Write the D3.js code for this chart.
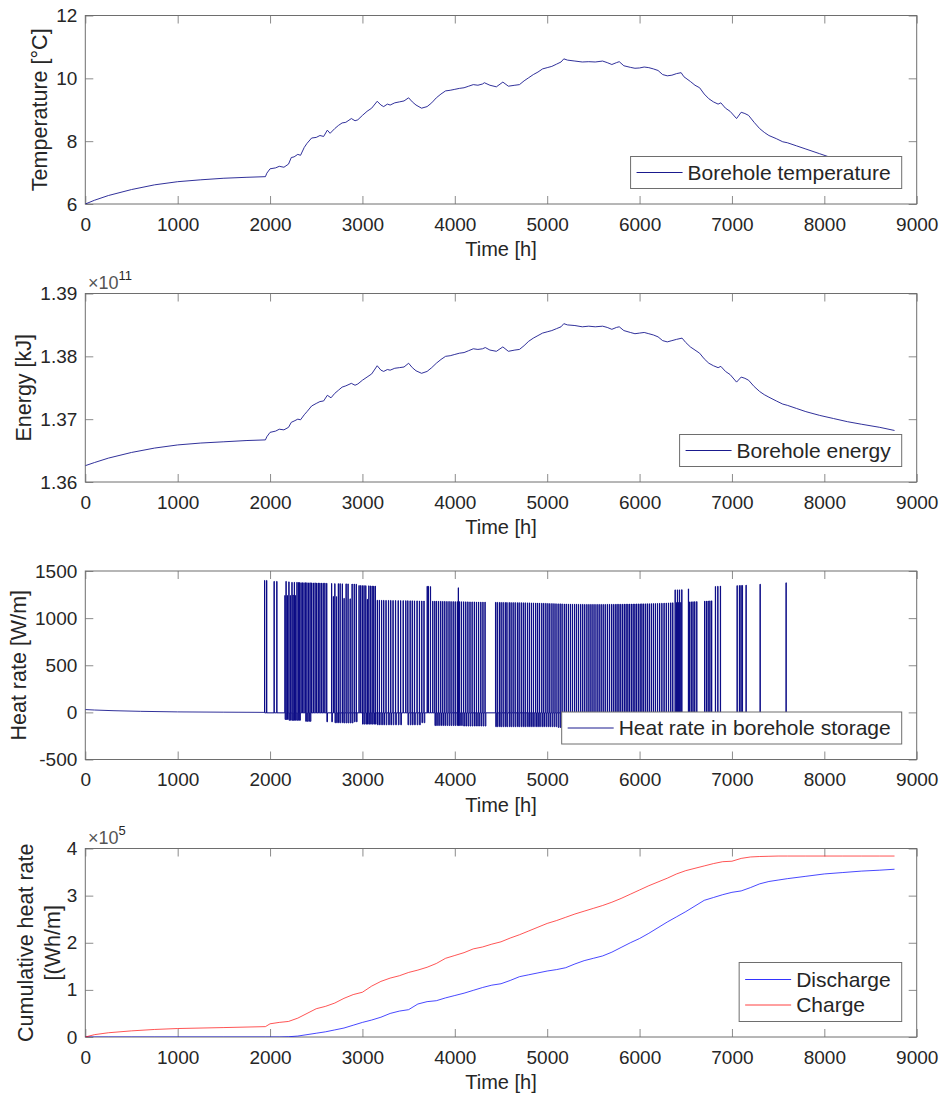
<!DOCTYPE html>
<html>
<head>
<meta charset="utf-8">
<script src="https://cdn.jsdelivr.net/npm/d3@7"></script>
<style>
  body { margin: 0; background: #fff; }
  svg text { font-family: Helvetica, "Liberation Sans", Arial, sans-serif; fill: #262626; }
</style>
</head>
<body>
<svg id="chart" width="944" height="1096"></svg>
<script>
// ---- data ----
const timeTicks = [0, 1000, 2000, 3000, 4000, 5000, 6000, 7000, 8000, 9000]

// borehole temperature [°C]
const tempHours = [0, 100, 250, 500, 750, 1000, 1250, 1500, 1750, 1950, 1965, 2000, 2060, 2100, 2150, 2200, 2230, 2260, 2300, 2330, 2370, 2400, 2450, 2500, 2540, 2580, 2620, 2650, 2700, 2740, 2780, 2820, 2880, 2920, 2950, 3000, 3050, 3100, 3160, 3200, 3230, 3270, 3300, 3350, 3400, 3450, 3500, 3540, 3580, 3640, 3700, 3750, 3800, 3850, 3900, 3950, 4000, 4050, 4100, 4150, 4200, 4250, 4300, 4320, 4380, 4450, 4520, 4580, 4650, 4700, 4750, 4800, 4850, 4900, 4950, 5000, 5050, 5100, 5150, 5180, 5220, 5300, 5380, 5450, 5520, 5600, 5650, 5700, 5750, 5780, 5830, 5900, 5950, 6000, 6050, 6100, 6150, 6200, 6250, 6300, 6350, 6400, 6450, 6480, 6550, 6600, 6650, 6700, 6750, 6800, 6850, 6880, 6930, 6980, 7050, 7100, 7140, 7180, 7240, 7300, 7350, 7400, 7480, 7550, 7600, 7700, 7800, 7950, 8050, 8200, 8400, 8600, 8760]
const tempValues = [6.0, 6.12, 6.27, 6.46, 6.61, 6.71, 6.77, 6.82, 6.85, 6.87, 6.98, 7.12, 7.15, 7.2, 7.17, 7.27, 7.48, 7.5, 7.58, 7.55, 7.8, 7.93, 8.1, 8.12, 8.18, 8.15, 8.35, 8.25, 8.4, 8.5, 8.58, 8.6, 8.72, 8.65, 8.68, 8.82, 8.95, 9.05, 9.27, 9.15, 9.1, 9.18, 9.15, 9.22, 9.25, 9.28, 9.38, 9.25, 9.15, 9.05, 9.1, 9.22, 9.38, 9.5, 9.6, 9.62, 9.65, 9.68, 9.7, 9.75, 9.8, 9.78, 9.82, 9.86, 9.78, 9.73, 9.88, 9.75, 9.78, 9.8, 9.92, 10.02, 10.12, 10.2, 10.3, 10.34, 10.38, 10.45, 10.52, 10.62, 10.58, 10.55, 10.52, 10.53, 10.52, 10.55, 10.5, 10.44, 10.5, 10.53, 10.4, 10.35, 10.32, 10.33, 10.36, 10.34, 10.3, 10.25, 10.12, 10.08, 10.1, 10.15, 10.18, 10.05, 9.9, 9.78, 9.7, 9.5, 9.35, 9.25, 9.18, 9.22, 9.05, 8.95, 8.72, 8.92, 8.88, 8.82, 8.6, 8.4, 8.28, 8.18, 8.08, 7.98, 7.95, 7.85, 7.75, 7.6, 7.5, 7.42, 7.34, 7.27, 7.22]

// borehole energy [kJ], in units of 1e11
const energyHours = [0, 100, 250, 500, 750, 1000, 1250, 1500, 1750, 1950, 1965, 2000, 2060, 2100, 2150, 2200, 2230, 2260, 2300, 2330, 2370, 2400, 2450, 2500, 2540, 2580, 2620, 2660, 2700, 2740, 2780, 2820, 2880, 2920, 2950, 3000, 3050, 3100, 3160, 3200, 3230, 3270, 3300, 3350, 3400, 3450, 3500, 3540, 3580, 3640, 3700, 3750, 3800, 3850, 3900, 3950, 4000, 4050, 4100, 4150, 4200, 4250, 4300, 4330, 4380, 4450, 4520, 4580, 4650, 4700, 4750, 4800, 4850, 4900, 4950, 5000, 5050, 5100, 5150, 5180, 5220, 5300, 5380, 5450, 5520, 5600, 5650, 5700, 5750, 5780, 5830, 5900, 5950, 6000, 6050, 6100, 6150, 6200, 6250, 6300, 6350, 6400, 6460, 6500, 6550, 6600, 6650, 6700, 6750, 6800, 6850, 6880, 6930, 6980, 7050, 7100, 7140, 7180, 7240, 7300, 7350, 7400, 7480, 7550, 7600, 7700, 7800, 7950, 8100, 8250, 8400, 8600, 8760]
const energyValues = [1.3626, 1.3631, 1.3638, 1.3647, 1.3654, 1.3659, 1.3662, 1.3664, 1.3666, 1.3667, 1.3672, 1.3679, 1.3681, 1.3684, 1.3683, 1.3687, 1.3695, 1.3697, 1.3700, 1.3699, 1.3707, 1.3712, 1.3721, 1.3725, 1.3728, 1.3729, 1.3738, 1.3734, 1.3741, 1.3746, 1.3751, 1.3753, 1.3757, 1.3754, 1.3756, 1.3762, 1.3767, 1.3772, 1.3785, 1.3778, 1.3776, 1.3779, 1.3778, 1.3781, 1.3782, 1.3783, 1.3789, 1.3782, 1.3777, 1.3773, 1.3776, 1.3782, 1.3789, 1.3795, 1.3800, 1.3801, 1.3803, 1.3805, 1.3806, 1.3809, 1.3812, 1.3811, 1.3812, 1.3814, 1.3810, 1.3808, 1.3815, 1.3808, 1.3810, 1.3811, 1.3817, 1.3824, 1.3829, 1.3833, 1.3837, 1.3839, 1.3841, 1.3844, 1.3847, 1.3852, 1.3850, 1.3849, 1.3847, 1.3848, 1.3847, 1.3848, 1.3846, 1.3843, 1.3846, 1.3847, 1.3841, 1.3838, 1.3836, 1.3837, 1.3838, 1.3836, 1.3834, 1.3831, 1.3825, 1.3823, 1.3825, 1.3827, 1.3829, 1.3822, 1.3815, 1.3810, 1.3805, 1.3796, 1.3789, 1.3785, 1.3782, 1.3784, 1.3776, 1.3771, 1.3759, 1.3767, 1.3765, 1.3762, 1.3752, 1.3744, 1.3739, 1.3735, 1.3729, 1.3724, 1.3722, 1.3717, 1.3712, 1.3706, 1.3701, 1.3696, 1.3692, 1.3687, 1.3682]

// heat rate [W/m]: slow drift before the first charge
const rateEarlyHours = [0, 100, 300, 600, 1000, 1500, 1940]
const rateEarlyValues = [30, 25, 18, 11, 5, 2, 0]
// charge pulses: [hour, peak rate]
const chargePulses = [
  [1940,1400],[1962,1400],[2043,1390],[2072,1390],
  [2160,1240],[2172,1390],[2186,1240],[2203,1385],[2219,1240],[2236,1380],[2248,1245],[2262,1380],[2274,1240],[2290,1380],[2306,1378],[2318,1378],
  [2334,1375],[2349,1376],[2366,1375],[2383,1376],[2398,1375],[2416,1374],[2432,1375],[2449,1374],[2467,1373],[2486,1374],[2503,1372],[2521,1373],[2538,1372],[2556,1372],[2574,1371],[2592,1372],[2612,1370],
  [2665,1368],[2684,1230],[2700,1366],[2718,1228],[2738,1366],[2757,1366],[2781,1364],[2800,1210],[2822,1364],[2843,1363],[2866,1205],[2887,1362],[2910,1362],[2932,1360],
  [2962,1346],[2980,1346],[2998,1345],[3016,1345],[3035,1344],[3052,1200],[3068,1343],[3086,1342],[3104,1341],[3121,1340],[3138,1340],
  [3160,1190],[3182,1190],[3206,1189],[3229,1189],[3254,1188],[3281,1188],[3305,1188],[3330,1187],[3357,1187],[3386,1186],[3412,1186],[3440,1186],[3468,1185],[3490,1185],[3515,1184],[3538,1184],[3562,1183],[3590,1183],[3616,1182],[3641,1182],[3665,1182],
  [3700,1338],[3712,1338],[3735,1335],
  [3760,1180],[3782,1180],[3801,1180],[3823,1179],[3846,1179],[3868,1178],[3890,1178],[3913,1177],[3936,1177],[3958,1176],[3981,1176],[4003,1175],[4026,1175],[4037,1322],[4050,1175],[4071,1174],[4094,1174],[4117,1173],[4140,1173],[4163,1172],[4186,1172],[4210,1172],[4233,1171],[4256,1171],[4280,1170],[4303,1170],[4326,1170],
  [4440,1168],[4458,1168],[4481,1167],[4500,1167],[4522,1167],[4545,1166],[4563,1166],[4588,1166],[4608,1165],[4630,1165],[4652,1165],[4676,1164],[4695,1164],[4718,1164],[4740,1163],[4761,1163],[4785,1162],[4806,1162],[4828,1161],[4850,1161],[4874,1160],[4895,1160],[4916,1159],[4940,1158],[4961,1158],[4984,1157],
  [5006,1156],[5027,1155],[5050,1155],[5072,1154],[5094,1153],[5117,1152],[5139,1152],[5160,1151],[5184,1150],[5205,1150],[5228,1149],[5250,1149],[5272,1148],[5295,1148],[5316,1148],[5338,1147],[5361,1147],[5383,1147],[5405,1146],[5428,1146],[5450,1146],[5472,1146],[5494,1146],[5516,1146],[5539,1146],[5561,1146],[5583,1146],[5605,1146],[5627,1146],[5650,1147],[5672,1147],[5694,1147],[5714,1147],[5735,1147],[5755,1148],[5775,1148],[5795,1148],[5815,1148],[5834,1149],[5853,1149],[5872,1149],[5891,1150],[5910,1150],[5929,1150],[5948,1150],[5967,1151],[5986,1151],
  [6005,1151],[6024,1152],[6043,1152],[6063,1152],[6083,1153],[6104,1153],[6126,1154],[6148,1155],[6170,1155],[6193,1156],[6216,1157],[6240,1158],[6264,1159],[6288,1160],[6312,1161],[6336,1162],[6358,1163],
  [6384,1300],[6398,1165],[6409,1300],[6420,1166],[6431,1300],[6445,1166],[6456,1302],
  [6528,1310],[6540,1172],[6558,1173],[6577,1174],[6596,1175],[6618,1176],
  [6703,1180],[6722,1181],[6741,1182],[6760,1183],[6779,1184],
  [6820,1336],[6846,1338],[6874,1340],
  [7055,1345],[7080,1346],[7097,1347],[7112,1347],[7152,1350],
  [7304,1360],
  [7585,1375]
]
// periods where the storage is discharged between pulses: [start, end, rate]
const dischargeBlocks = [
  [1990,2030,-58],[2150,2200,-75],[2200,2330,-84],[2370,2440,-95],[2600,2680,-100],[2690,2790,-110],[2800,2900,-112],[2900,2945,-100],
  [3000,3160,-125],[3160,3430,-132],[3490,3630,-132],[3640,3700,-110],[3780,4080,-140],[4085,4350,-145],[4430,5110,-152],[5110,6400,-160],[6400,6800,-150]
]
const pulseHours = 3
const dischargeHours = 7
const idleRate = -5

// cumulative heat rate [Wh/m], in units of 1e5
const cumHours = [0, 100, 250, 500, 750, 1000, 1500, 1950, 2000, 2100, 2200, 2300, 2400, 2500, 2600, 2700, 2800, 2900, 3000, 3100, 3200, 3300, 3400, 3500, 3600, 3700, 3800, 3900, 4000, 4100, 4200, 4300, 4400, 4500, 4600, 4700, 4800, 4900, 5000, 5100, 5200, 5300, 5400, 5500, 5600, 5700, 5800, 5900, 6000, 6100, 6200, 6300, 6400, 6500, 6600, 6700, 6800, 6900, 7000, 7100, 7200, 7300, 7400, 7500, 7600, 7800, 8000, 8200, 8400, 8600, 8760]
const chargeCum = [0, 0.05, 0.09, 0.13, 0.16, 0.18, 0.2, 0.22, 0.28, 0.31, 0.33, 0.4, 0.5, 0.6, 0.65, 0.72, 0.82, 0.9, 0.95, 1.08, 1.18, 1.25, 1.3, 1.37, 1.42, 1.48, 1.56, 1.67, 1.73, 1.79, 1.87, 1.91, 1.97, 2.02, 2.1, 2.17, 2.25, 2.33, 2.41, 2.47, 2.54, 2.61, 2.67, 2.73, 2.79, 2.86, 2.94, 3.03, 3.12, 3.21, 3.29, 3.37, 3.46, 3.53, 3.58, 3.63, 3.68, 3.72, 3.73, 3.79, 3.82, 3.83, 3.835, 3.84, 3.84, 3.84, 3.84, 3.84, 3.84, 3.84, 3.84]
const dischargeCum = [0, 0, 0, 0, 0, 0, 0, 0, 0, 0, 0.005, 0.02, 0.05, 0.08, 0.11, 0.15, 0.19, 0.25, 0.31, 0.36, 0.42, 0.5, 0.55, 0.58, 0.7, 0.75, 0.77, 0.83, 0.88, 0.93, 0.99, 1.05, 1.1, 1.13, 1.2, 1.28, 1.32, 1.36, 1.4, 1.43, 1.47, 1.55, 1.62, 1.67, 1.72, 1.8, 1.9, 2.0, 2.09, 2.2, 2.32, 2.44, 2.55, 2.66, 2.78, 2.9, 2.96, 3.02, 3.07, 3.1, 3.17, 3.25, 3.3, 3.33, 3.36, 3.41, 3.46, 3.49, 3.52, 3.54, 3.56]

// ---- layout ----
const svg = d3.select("#chart")
const left = 85.3, right = 916.7
const panelTops = [15.5, 293.5, 571, 848.5]
const panelH = 188.5
const tickLen = 8
const axisColor = "#6e6e6e"
const navy = "#1a1a8e"

const x = d3.scaleLinear().domain([0, 9000]).range([left, right])

function makePanel(i, yDomain, yTicks, yFmt) {
  const top = panelTops[i], bottom = top + panelH
  const y = d3.scaleLinear().domain(yDomain).range([bottom, top])
  const g = svg.append("g")

  g.append("clipPath").attr("id", "clip" + i)
    .append("rect").attr("x", left).attr("y", top).attr("width", right - left).attr("height", panelH)

  const styleAxis = (sel) => {
    sel.select(".domain").remove()
    sel.selectAll(".tick line").attr("stroke", axisColor).attr("stroke-width", 0.8)
    sel.selectAll(".tick text").attr("font-size", 19).attr("fill", "#262626")
      .style("font-family", "Helvetica, 'Liberation Sans', Arial, sans-serif")
  }

  g.append("g").attr("transform", `translate(0,${bottom})`)
    .call(d3.axisBottom(x).tickValues(timeTicks).tickSize(-tickLen).tickSizeOuter(0).tickPadding(13.5).tickFormat(d3.format("d")))
    .call(styleAxis)
  g.append("g").attr("transform", `translate(0,${top})`)
    .call(d3.axisTop(x).tickValues(timeTicks).tickSize(-tickLen).tickSizeOuter(0).tickFormat(""))
    .call(styleAxis)
  g.append("g").attr("transform", `translate(${left},0)`)
    .call(d3.axisLeft(y).tickValues(yTicks).tickSize(-tickLen).tickSizeOuter(0).tickPadding(8).tickFormat(yFmt))
    .call(styleAxis)
  g.append("g").attr("transform", `translate(${right},0)`)
    .call(d3.axisRight(y).tickValues(yTicks).tickSize(-tickLen).tickSizeOuter(0).tickFormat(""))
    .call(styleAxis)

  g.append("rect").attr("x", left).attr("y", top).attr("width", right - left).attr("height", panelH)
    .attr("fill", "none").attr("stroke", axisColor).attr("stroke-width", 1)

  g.append("text").attr("x", (left + right) / 2).attr("y", bottom + 52)
    .attr("text-anchor", "middle").attr("font-size", 20).text("Time [h]")

  const plot = g.append("g").attr("clip-path", `url(#clip${i})`)
  return { g, y, top, bottom, plot }
}

function yLabel(g, lines, xs, cy) {
  lines.forEach((t, k) => {
    g.append("text").attr("transform", `translate(${xs[k]},${cy}) rotate(-90)`)
      .attr("text-anchor", "middle").attr("font-size", 21.5).text(t)
  })
}

function exponent(g, top, power) {
  const t = g.append("text").attr("x", 88).attr("y", top - 5).attr("font-size", 18)
  t.append("tspan").attr("fill", "#555").text("×10")
  t.append("tspan").attr("dy", -9).attr("font-size", 13).text(power)
}

function legend(g, bottomY, entries) {
  const fs = 21
  const tmp = g.append("text").attr("font-size", fs)
  const w = d3.max(entries, e => { tmp.text(e.label); return tmp.node().getComputedTextLength() })
  tmp.remove()
  const rowH = 25.5
  const boxW = w + 68, boxH = entries.length === 1 ? 32 : 8 + rowH * entries.length
  const bx = right - 15 - boxW, by = bottomY - 15.5 - boxH
  const lg = g.append("g")
  lg.append("rect").attr("x", bx).attr("y", by).attr("width", boxW).attr("height", boxH)
    .attr("fill", "#fff").attr("stroke", axisColor).attr("stroke-width", 1)
  entries.forEach((e, k) => {
    const cy = by + (entries.length === 1 ? 16 : 17 + rowH * k)
    lg.append("line").attr("x1", bx + 6).attr("x2", bx + 52).attr("y1", cy).attr("y2", cy)
      .attr("stroke", e.color).attr("stroke-width", 1).attr("stroke-opacity", e.opacity || 1)
    lg.append("text").attr("x", bx + 57).attr("y", cy + 7).attr("font-size", fs).attr("fill", "#000").text(e.label)
  })
}

// ---- panel 1: temperature ----
const p1 = makePanel(0, [6, 12], [6, 8, 10, 12], d3.format("d"))
p1.plot.append("path")
  .datum(d3.zip(tempHours, tempValues))
  .attr("fill", "none").attr("stroke", navy).attr("stroke-width", 0.9)
  .attr("d", d3.line().x(d => x(d[0])).y(d => p1.y(d[1])))
yLabel(p1.g, ["Temperature [°C]"], [47], (p1.top + p1.bottom) / 2)
legend(p1.g, p1.bottom, [{ label: "Borehole temperature", color: navy }])

// ---- panel 2: energy ----
const p2 = makePanel(1, [1.36, 1.39], [1.36, 1.37, 1.38, 1.39], d3.format(".2f"))
p2.plot.append("path")
  .datum(d3.zip(energyHours, energyValues))
  .attr("fill", "none").attr("stroke", navy).attr("stroke-width", 0.9)
  .attr("d", d3.line().x(d => x(d[0])).y(d => p2.y(d[1])))
yLabel(p2.g, ["Energy [kJ]"], [31], (p2.top + p2.bottom) / 2)
exponent(p2.g, p2.top, "11")
legend(p2.g, p2.bottom, [{ label: "Borehole energy", color: navy }])

// ---- panel 3: heat rate ----
const p3 = makePanel(2, [-500, 1500], [-500, 0, 500, 1000, 1500], d => String(d))
// step events built from the pulse and discharge lists
const steps = []
chargePulses.forEach(([h, lv], k) => {
  const next = k + 1 < chargePulses.length ? chargePulses[k + 1][0] : Infinity
  steps.push([h, lv])
  const end = h + pulseHours
  const blk = dischargeBlocks.find(b => end >= b[0] && end <= b[1])
  if (blk) {
    steps.push([end, blk[2]])
    steps.push([Math.min(end + dischargeHours, next), idleRate])
  } else {
    steps.push([end, idleRate])
  }
})
steps.push([8760, idleRate])
p3.plot.append("path")
  .datum(d3.zip(rateEarlyHours, rateEarlyValues))
  .attr("fill", "none").attr("stroke", navy).attr("stroke-width", 0.9)
  .attr("d", d3.line().x(d => x(d[0])).y(d => p3.y(d[1])))
p3.plot.append("path")
  .datum([[1940, 0]].concat(steps))
  .attr("fill", "none").attr("stroke", "#0b0b86").attr("stroke-width", 1)
  .attr("d", d3.line().curve(d3.curveStepAfter).x(d => x(d[0])).y(d => p3.y(d[1])))
yLabel(p3.g, ["Heat rate [W/m]"], [25.5], (p3.top + p3.bottom) / 2)
legend(p3.g, p3.bottom, [{ label: "Heat rate in borehole storage", color: navy }])

// ---- panel 4: cumulative heat rate ----
const p4 = makePanel(3, [0, 4], [0, 1, 2, 3, 4], d3.format("d"))
p4.plot.append("path")
  .datum(d3.zip(cumHours, dischargeCum))
  .attr("fill", "none").attr("stroke", "#0000ff").attr("stroke-width", 0.9).attr("stroke-opacity", 0.8)
  .attr("d", d3.line().x(d => x(d[0])).y(d => p4.y(d[1])))
p4.plot.append("path")
  .datum(d3.zip(cumHours, chargeCum))
  .attr("fill", "none").attr("stroke", "#ff0000").attr("stroke-width", 0.9).attr("stroke-opacity", 0.75)
  .attr("d", d3.line().x(d => x(d[0])).y(d => p4.y(d[1])))
yLabel(p4.g, ["Cumulative heat rate", "[(Wh/m]"], [32.5, 59.5], (p4.top + p4.bottom) / 2)
exponent(p4.g, p4.top, "5")
legend(p4.g, p4.bottom, [
  { label: "Discharge", color: "#0000ff", opacity: 0.8 },
  { label: "Charge", color: "#ff0000", opacity: 0.75 }
])
</script>
</body>
</html>
